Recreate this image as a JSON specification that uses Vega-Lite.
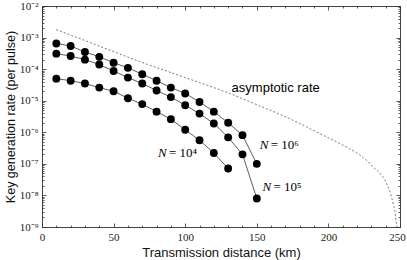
{
  "$schema": "https://vega.github.io/schema/vega-lite/v6.json",
  "width": 358,
  "height": 221,
  "autosize": "none",
  "padding": {"left": 42, "top": 6, "right": 7, "bottom": 33},
  "background": "white",
  "config": {
    "view": {"stroke": "#444", "strokeWidth": 1},
    "axis": {"domain": false, "grid": false, "tickColor": "#333", "tickWidth": 0.8, "labelFont": "Liberation Serif", "labelFontSize": 11, "labelColor": "#222", "titleFont": "Liberation Sans", "titleFontSize": 13, "titleFontWeight": "normal", "titleColor": "#111"}
  },
  "datasets": {
    "series": [
      {"N": "1e6", "km": 10, "rate": 6.5e-4}, {"N": "1e6", "km": 20, "rate": 5.4e-4}, {"N": "1e6", "km": 30, "rate": 3.5e-4},
      {"N": "1e6", "km": 40, "rate": 2.45e-4}, {"N": "1e6", "km": 50, "rate": 1.6e-4}, {"N": "1e6", "km": 60, "rate": 1.1e-4},
      {"N": "1e6", "km": 70, "rate": 6.9e-5}, {"N": "1e6", "km": 80, "rate": 4.3e-5}, {"N": "1e6", "km": 90, "rate": 2.6e-5},
      {"N": "1e6", "km": 100, "rate": 1.7e-5}, {"N": "1e6", "km": 110, "rate": 9.1e-6}, {"N": "1e6", "km": 120, "rate": 4.5e-6},
      {"N": "1e6", "km": 130, "rate": 2.0e-6}, {"N": "1e6", "km": 140, "rate": 8.1e-7}, {"N": "1e6", "km": 150, "rate": 1.0e-7},
      {"N": "1e5", "km": 10, "rate": 3.1e-4}, {"N": "1e5", "km": 20, "rate": 2.6e-4}, {"N": "1e5", "km": 30, "rate": 2.0e-4},
      {"N": "1e5", "km": 40, "rate": 1.4e-4}, {"N": "1e5", "km": 50, "rate": 8.7e-5}, {"N": "1e5", "km": 60, "rate": 5.4e-5},
      {"N": "1e5", "km": 70, "rate": 3.5e-5}, {"N": "1e5", "km": 80, "rate": 2.1e-5}, {"N": "1e5", "km": 90, "rate": 1.3e-5},
      {"N": "1e5", "km": 100, "rate": 7.2e-6}, {"N": "1e5", "km": 110, "rate": 3.9e-6}, {"N": "1e5", "km": 120, "rate": 1.9e-6},
      {"N": "1e5", "km": 130, "rate": 6.9e-7}, {"N": "1e5", "km": 140, "rate": 2.0e-7}, {"N": "1e5", "km": 150, "rate": 8.0e-9},
      {"N": "1e4", "km": 10, "rate": 5.0e-5}, {"N": "1e4", "km": 20, "rate": 4.3e-5}, {"N": "1e4", "km": 30, "rate": 3.5e-5},
      {"N": "1e4", "km": 40, "rate": 2.6e-5}, {"N": "1e4", "km": 50, "rate": 2.0e-5}, {"N": "1e4", "km": 60, "rate": 1.2e-5},
      {"N": "1e4", "km": 70, "rate": 7.8e-6}, {"N": "1e4", "km": 80, "rate": 4.5e-6}, {"N": "1e4", "km": 90, "rate": 2.6e-6},
      {"N": "1e4", "km": 100, "rate": 1.2e-6}, {"N": "1e4", "km": 110, "rate": 5.6e-7}, {"N": "1e4", "km": 120, "rate": 2.2e-7},
      {"N": "1e4", "km": 130, "rate": 7.1e-8}
    ],
    "asymptotic": [
      {"km": 10, "rate": 1.78e-3}, {"km": 40, "rate": 5.4e-4}, {"km": 66, "rate": 1.9e-4}, {"km": 100, "rate": 5.4e-5},
      {"km": 131, "rate": 1.7e-5}, {"km": 150, "rate": 7.5e-6}, {"km": 165, "rate": 3.9e-6}, {"km": 180, "rate": 1.9e-6},
      {"km": 194, "rate": 9.1e-7}, {"km": 208, "rate": 4.4e-7}, {"km": 216, "rate": 2.8e-7}, {"km": 222, "rate": 1.9e-7},
      {"km": 227, "rate": 1.25e-7}, {"km": 231, "rate": 8.1e-8},
      {"km": 236, "rate": 5.0e-8}, {"km": 239.4, "rate": 3.1e-8}, {"km": 242, "rate": 1.7e-8}, {"km": 244, "rate": 9.1e-9},
      {"km": 245.5, "rate": 5.0e-9}, {"km": 246.3, "rate": 3.5e-9}, {"km": 247, "rate": 2.0e-9}, {"km": 247.5, "rate": 1.3e-9},
      {"km": 247.8, "rate": 1.0e-9}
    ],
    "labels": [
      {"km": 81, "rate": 2.2e-7, "n": "N", "rest": "= 10⁴"},
      {"km": 152, "rate": 3.9e-7, "n": "N", "rest": "= 10⁶"},
      {"km": 154, "rate": 1.8e-8, "n": "N", "rest": "= 10⁵"}
    ],
    "asylabel": [{"km": 132.4, "rate": 2.45e-5, "text": "asymptotic rate"}]
  },
  "resolve": {"axis": {"x": "independent", "y": "independent"}},
  "layer": [
    {
      "data": {"name": "series"},
      "mark": {"type": "line", "color": "#333", "strokeWidth": 0.8},
      "encoding": {
        "x": {"field": "km", "type": "quantitative", "scale": {"domain": [0, 250], "nice": false},
          "axis": {"orient": "bottom", "title": "Transmission distance (km)", "values": [0,10,20,30,40,50,60,70,80,90,100,110,120,130,140,150,160,170,180,190,200,210,220,230,240,250],
            "labelExpr": "datum.value % 50 === 0 ? datum.label : ''", "tickSize": {"condition": {"test": "datum.value % 50 === 0", "value": -4}, "value": -2},
            "labelOffset": {"condition": {"test": "datum.value === 250", "value": -3}, "value": 0},
            "labelPadding": 8, "titlePadding": 4, "labelFlush": false}},
        "y": {"field": "rate", "type": "quantitative", "scale": {"type": "log", "domain": [1e-9, 1e-2], "nice": false},
          "axis": {"orient": "left", "title": "Key generation rate (per pulse)", "titleFontSize": 12.5,
            "values": [1e-9,2e-9,3e-9,4e-9,5e-9,6e-9,7e-9,8e-9,9e-9,1e-8,2e-8,3e-8,4e-8,5e-8,6e-8,7e-8,8e-8,9e-8,1e-7,2e-7,3e-7,4e-7,5e-7,6e-7,7e-7,8e-7,9e-7,1e-6,2e-6,3e-6,4e-6,5e-6,6e-6,7e-6,8e-6,9e-6,1e-5,2e-5,3e-5,4e-5,5e-5,6e-5,7e-5,8e-5,9e-5,1e-4,2e-4,3e-4,4e-4,5e-4,6e-4,7e-4,8e-4,9e-4,1e-3,2e-3,3e-3,4e-3,5e-3,6e-3,7e-3,8e-3,9e-3,1e-2],
            "labelExpr": "abs(log(datum.value)/LN10 - round(log(datum.value)/LN10)) < 0.001 ? '10⁻' + ['⁰','¹','²','³','⁴','⁵','⁶','⁷','⁸','⁹'][-round(log(datum.value)/LN10)] : ''",
            "tickSize": {"condition": {"test": "abs(log(datum.value)/LN10 - round(log(datum.value)/LN10)) < 0.001", "value": -4}, "value": -2},
            "labelPadding": 8, "titlePadding": 2, "labelFlush": false}},
        "detail": {"field": "N"}
      }
    },
    {
      "data": {"name": "series"},
      "mark": {"type": "point", "filled": true, "color": "black", "opacity": 1, "size": 62, "shape": "circle"},
      "encoding": {
        "x": {"field": "km", "type": "quantitative", "axis": null},
        "y": {"field": "rate", "type": "quantitative", "axis": null}
      }
    },
    {
      "data": {"name": "labels"},
      "mark": {"type": "text", "font": "Liberation Serif", "fontStyle": "italic", "fontSize": 13, "align": "left", "baseline": "middle", "color": "black"},
      "encoding": {
        "x": {"field": "km", "type": "quantitative", "axis": null},
        "y": {"field": "rate", "type": "quantitative", "axis": null},
        "text": {"field": "n"}
      }
    },
    {
      "data": {"name": "labels"},
      "mark": {"type": "text", "font": "Liberation Serif", "fontSize": 13, "align": "left", "baseline": "middle", "dx": 11, "color": "black"},
      "encoding": {
        "x": {"field": "km", "type": "quantitative", "axis": null},
        "y": {"field": "rate", "type": "quantitative", "axis": null},
        "text": {"field": "rest"}
      }
    },
    {
      "data": {"name": "asylabel"},
      "mark": {"type": "text", "font": "Liberation Sans", "fontSize": 13, "align": "left", "baseline": "middle", "color": "black"},
      "encoding": {
        "x": {"field": "km", "type": "quantitative", "axis": null},
        "y": {"field": "rate", "type": "quantitative", "axis": null},
        "text": {"field": "text"}
      }
    },
    {
      "data": {"name": "asymptotic"},
      "mark": {"type": "line", "color": "#555", "strokeWidth": 0.8, "strokeDash": [2, 2], "interpolate": "monotone"},
      "encoding": {
        "x": {"field": "km", "type": "quantitative",
          "axis": {"orient": "top", "title": null, "labels": false, "values": [0,10,20,30,40,50,60,70,80,90,100,110,120,130,140,150,160,170,180,190,200,210,220,230,240,250],
            "tickSize": {"condition": {"test": "datum.value % 50 === 0", "value": -4}, "value": -2}}},
        "y": {"field": "rate", "type": "quantitative",
          "axis": {"orient": "right", "title": null, "labels": false,
            "values": [1e-9,2e-9,3e-9,4e-9,5e-9,6e-9,7e-9,8e-9,9e-9,1e-8,2e-8,3e-8,4e-8,5e-8,6e-8,7e-8,8e-8,9e-8,1e-7,2e-7,3e-7,4e-7,5e-7,6e-7,7e-7,8e-7,9e-7,1e-6,2e-6,3e-6,4e-6,5e-6,6e-6,7e-6,8e-6,9e-6,1e-5,2e-5,3e-5,4e-5,5e-5,6e-5,7e-5,8e-5,9e-5,1e-4,2e-4,3e-4,4e-4,5e-4,6e-4,7e-4,8e-4,9e-4,1e-3,2e-3,3e-3,4e-3,5e-3,6e-3,7e-3,8e-3,9e-3,1e-2],
            "tickSize": {"condition": {"test": "abs(log(datum.value)/LN10 - round(log(datum.value)/LN10)) < 0.001", "value": -4}, "value": -2}}}
      }
    }
  ]
}
